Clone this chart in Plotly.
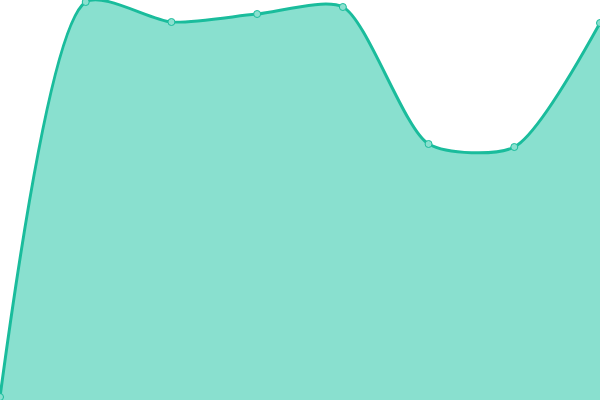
import plotly.graph_objects as go

# categories along x and the series values
days = [0, 1, 2, 3, 4, 5, 6, 7]
values = [3, 398, 378, 386, 393, 256, 253, 377]

fig = go.Figure()
fig.add_trace(go.Scatter(
    x=days,
    y=values,
    mode="lines+markers",
    line=dict(color="#1abc9c", width=3, shape="spline", smoothing=0.7),
    marker=dict(size=7, color="#8ae0cf", line=dict(color="#1abc9c", width=1)),
    fill="tozeroy",
    fillcolor="#89e0cf",
    cliponaxis=False,
    hoverinfo="skip",
))

fig.update_layout(
    width=600, height=400,
    margin=dict(l=0, r=0, t=0, b=0),
    paper_bgcolor="white",
    plot_bgcolor="white",
    showlegend=False,
    xaxis=dict(visible=False, range=[0, 7]),
    yaxis=dict(visible=False, range=[0, 400]),
)

# drop the browser's default body margin so the chart sits flush
fig.write_html("out.html", config={"displayModeBar": False},
               post_script="document.body.style.margin='0';")
